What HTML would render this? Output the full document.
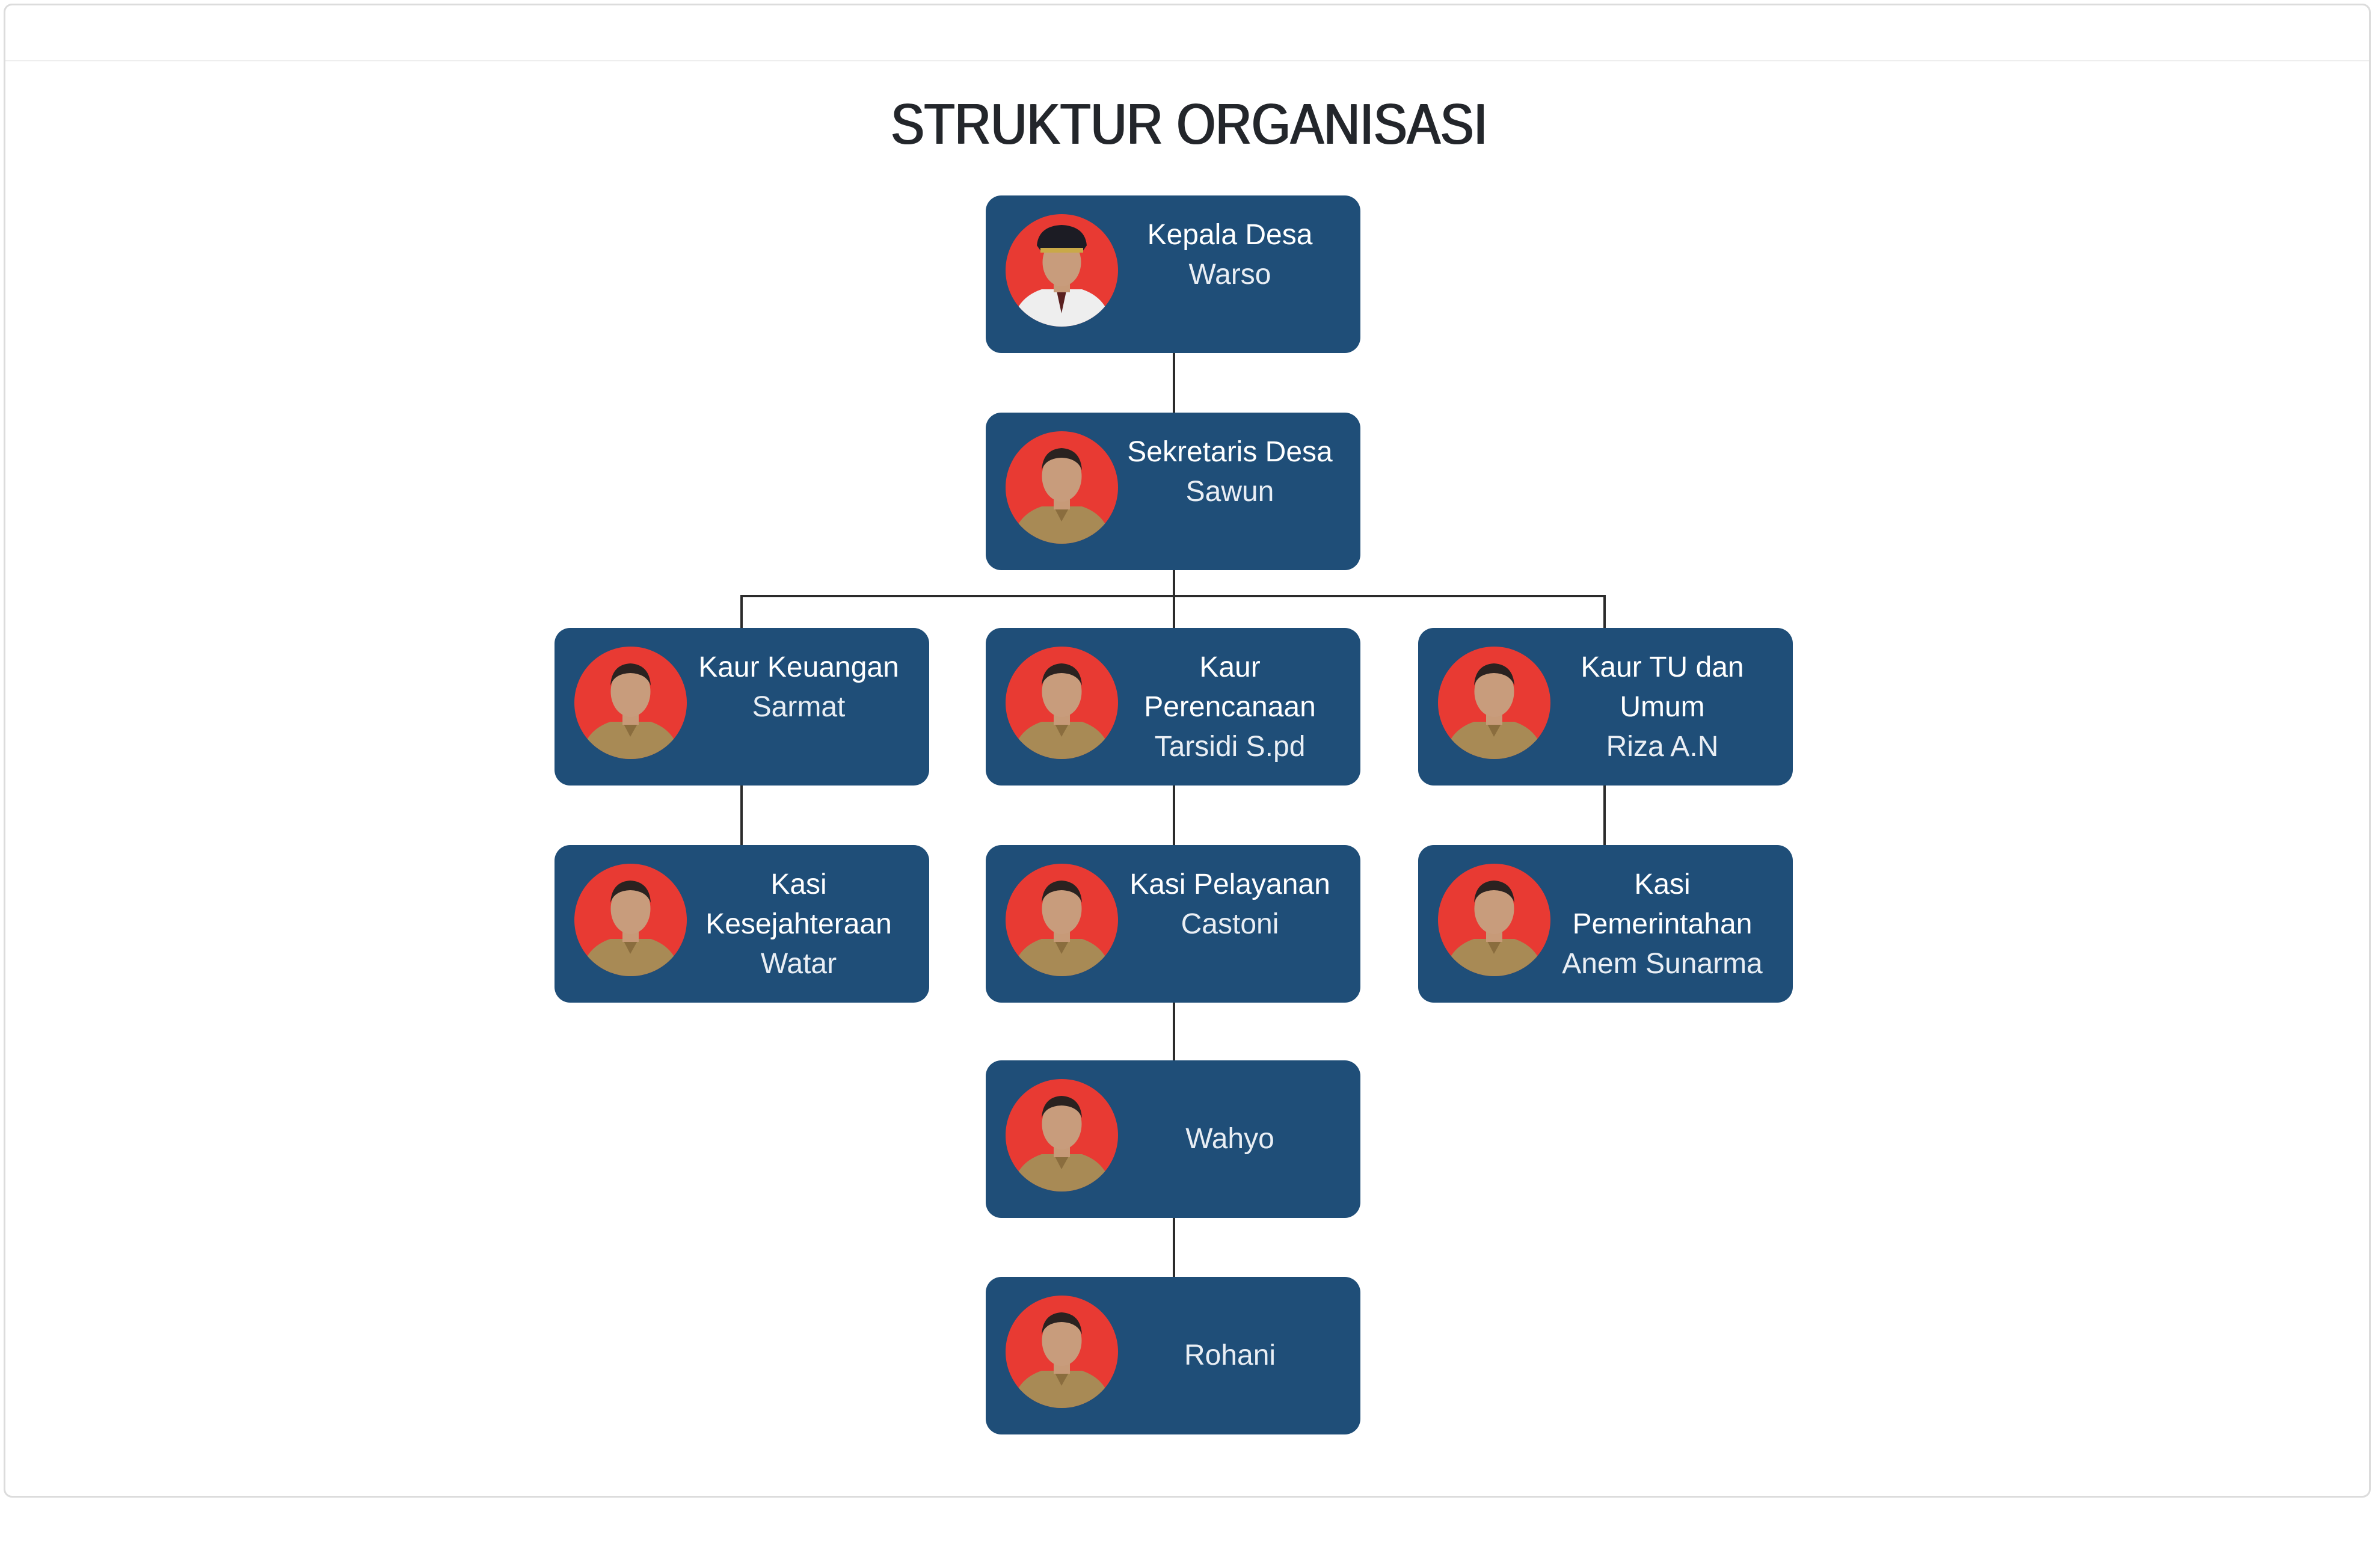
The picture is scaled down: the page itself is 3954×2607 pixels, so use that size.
<!DOCTYPE html>
<html><head><meta charset="utf-8"><style>
html,body{margin:0;padding:0;background:#fff;}
body{width:3954px;height:2607px;position:relative;overflow:hidden;font-family:"Liberation Sans",sans-serif;}
.frame{position:absolute;left:6px;top:6px;width:3936px;height:2484px;border:3px solid #dcdcdc;border-radius:14px;box-sizing:border-box;}
.hdr{position:absolute;left:9px;top:100px;width:3930px;height:2px;background:#eeeeee;}
.title{position:absolute;left:0;width:3954px;top:152px;text-align:center;font-size:96px;font-weight:normal;color:#23262b;line-height:110px;transform:scaleX(0.865);transform-origin:1977px 0;text-shadow:2px 0 0 #23262b,-1px 0 0 #23262b;}
.card{position:absolute;width:623px;height:262px;background:#1f4e78;border-radius:26px;}
.ph{position:absolute;left:33px;top:31px;width:187px;height:187px;}
.tx{position:absolute;left:226px;width:360px;top:33px;text-align:center;color:#fff;font-size:48px;line-height:66px;}
.tx b{font-weight:normal;}
.tx i{font-style:normal;font-weight:300;color:#e9eef4;}
.ln{position:absolute;background:#2b2b2b;}
</style></head><body>
<div class="frame"></div>
<div class="hdr"></div>
<div class="title">STRUKTUR ORGANISASI</div>

<svg width="0" height="0" style="position:absolute">
<defs>
<g id="p">
<circle cx="93.5" cy="93.5" r="93.5" fill="#e83a33"/>
<clipPath id="c"><circle cx="93.5" cy="93.5" r="93.5"/></clipPath>
<g clip-path="url(#c)">
<path d="M10 190 Q15 140 60 125 L127 125 Q172 140 177 190 Z" fill="#a88a55"/>
<path d="M80 125 L93 150 L107 125 Z" fill="#8a6d3e"/>
<rect x="80" y="100" width="27" height="30" fill="#c79a78"/>
<ellipse cx="93.5" cy="75" rx="33" ry="42" fill="#c89c7c"/>
<path d="M60 65 Q62 30 93 28 Q125 30 127 65 Q120 45 93 44 Q66 45 60 65 Z" fill="#2a2220"/>
</g>
</g>
<g id="pw">
<circle cx="93.5" cy="93.5" r="93.5" fill="#e83a33"/>
<g clip-path="url(#c)">
<path d="M10 190 Q15 140 60 125 L127 125 Q172 140 177 190 Z" fill="#eeeeee"/>
<path d="M85 128 L93 165 L101 128 Z" fill="#5a2020"/>
<rect x="80" y="100" width="27" height="30" fill="#c79a78"/>
<ellipse cx="93.5" cy="80" rx="32" ry="40" fill="#c89c7c"/>
<path d="M52 52 Q55 20 93 18 Q132 20 135 52 L128 62 L59 62 Z" fill="#1c1c24"/>
<rect x="58" y="56" width="71" height="8" fill="#c9a948"/>
</g>
</g>
</defs>
</svg>

<div class="ln" style="left:1950px;top:587px;width:4px;height:99px"></div>
<div class="ln" style="left:1950px;top:948px;width:4px;height:96px"></div>
<div class="ln" style="left:1231px;top:989px;width:1439px;height:4px"></div>
<div class="ln" style="left:1231px;top:989px;width:4px;height:55px"></div>
<div class="ln" style="left:2666px;top:989px;width:4px;height:55px"></div>
<div class="ln" style="left:1231px;top:1306px;width:4px;height:99px"></div>
<div class="ln" style="left:1950px;top:1306px;width:4px;height:99px"></div>
<div class="ln" style="left:2666px;top:1306px;width:4px;height:99px"></div>
<div class="ln" style="left:1950px;top:1667px;width:4px;height:96px"></div>
<div class="ln" style="left:1950px;top:2025px;width:4px;height:98px"></div>

<div class="card" style="left:1639px;top:325px"><svg class="ph" viewBox="0 0 187 187"><use href="#pw"/></svg><div class="tx"><b>Kepala Desa</b><br><i>Warso</i></div></div>
<div class="card" style="left:1639px;top:686px"><svg class="ph" viewBox="0 0 187 187"><use href="#p"/></svg><div class="tx"><b>Sekretaris Desa</b><br><i>Sawun</i></div></div>

<div class="card" style="left:922px;top:1044px"><svg class="ph" viewBox="0 0 187 187"><use href="#p"/></svg><div class="tx"><b>Kaur Keuangan</b><br><i>Sarmat</i></div></div>
<div class="card" style="left:1639px;top:1044px"><svg class="ph" viewBox="0 0 187 187"><use href="#p"/></svg><div class="tx"><b>Kaur<br>Perencanaan</b><br><i>Tarsidi S.pd</i></div></div>
<div class="card" style="left:2358px;top:1044px"><svg class="ph" viewBox="0 0 187 187"><use href="#p"/></svg><div class="tx"><b>Kaur TU dan<br>Umum</b><br><i>Riza A.N</i></div></div>

<div class="card" style="left:922px;top:1405px"><svg class="ph" viewBox="0 0 187 187"><use href="#p"/></svg><div class="tx"><b>Kasi<br>Kesejahteraan</b><br><i>Watar</i></div></div>
<div class="card" style="left:1639px;top:1405px"><svg class="ph" viewBox="0 0 187 187"><use href="#p"/></svg><div class="tx"><b>Kasi Pelayanan</b><br><i>Castoni</i></div></div>
<div class="card" style="left:2358px;top:1405px"><svg class="ph" viewBox="0 0 187 187"><use href="#p"/></svg><div class="tx"><b>Kasi<br>Pemerintahan</b><br><i>Anem Sunarma</i></div></div>

<div class="card" style="left:1639px;top:1763px"><svg class="ph" viewBox="0 0 187 187"><use href="#p"/></svg><div class="tx" style="top:98px"><i>Wahyo</i></div></div>
<div class="card" style="left:1639px;top:2123px"><svg class="ph" viewBox="0 0 187 187"><use href="#p"/></svg><div class="tx" style="top:98px"><i>Rohani</i></div></div>
</body></html>
